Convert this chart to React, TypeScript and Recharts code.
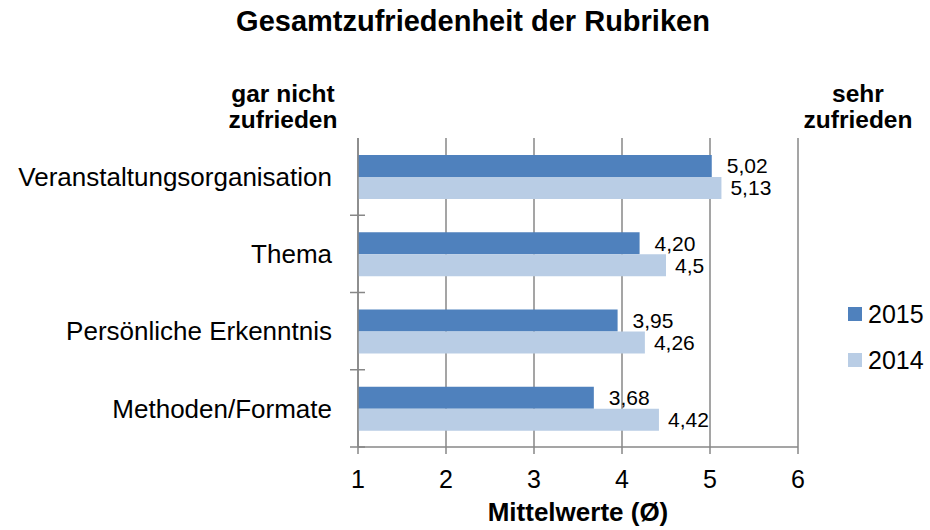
import React from "react";
import {
    BarChart,
    Bar,
    XAxis,
    YAxis,
    CartesianGrid,
    Legend,
    LabelList,
} from "recharts";

const categories = [
    "Veranstaltungsorganisation",
    "Thema",
    "Persönliche Erkenntnis",
    "Methoden/Formate",
];
const values2015 = [5.02, 4.2, 3.95, 3.68];
const values2014 = [5.13, 4.5, 4.26, 4.42];
const xTicks = [1, 2, 3, 4, 5, 6];

const data = categories.map((name, i) => ({
    name,
    y2015: values2015[i],
    y2014: values2014[i],
}));

const FONT = '"Liberation Sans", Arial, sans-serif';
const GRID = "#878787";
const C2015 = "#4f81bd";
const C2014 = "#b9cde5";
const TICK_MARGIN = 26;

const CategoryTick = (props: any) => {
    const { x, y, payload } = props;
    const axisX = x + TICK_MARGIN;
    const edge = y + (payload.offset ?? 0);
    return (
        <g>
            <text x={x} y={y} dy="0.355em" textAnchor="end" fontSize={26} fill="#000" fontFamily={FONT}>
                {payload.value}
            </text>
            <line x1={axisX - 8} x2={axisX + 7} y1={edge} y2={edge} stroke={GRID} strokeWidth={1.5} />
        </g>
    );
};

const renderLegend = () => (
    <div style={{ fontFamily: FONT }}>
        {[
            { label: "2015", color: C2015 },
            { label: "2014", color: C2014 },
        ].map((it) => (
            <div key={it.label} style={{ display: "flex", alignItems: "center", height: 46 }}>
                <div style={{ width: 14, height: 14, background: it.color, marginRight: 6 }} />
                <span style={{ fontSize: 25, lineHeight: "25px", color: "#000" }}>{it.label}</span>
            </div>
        ))}
    </div>
);

const comma = (v: any) => String(v).replace(".", ",");

export default function App() {
    return (
        <div style={{ position: "absolute", left: 0, top: 0, width: 930, height: 530, background: "#fff" }}>
            <BarChart
                width={930}
                height={530}
                data={data}
                layout="vertical"
                margin={{ top: 138, right: 132, bottom: 53, left: 0 }}
                barGap={0}
            >
                <CartesianGrid horizontal={false} stroke={GRID} strokeWidth={1.5} />
                <XAxis
                    type="number"
                    domain={[1, 6]}
                    ticks={xTicks}
                    interval={0}
                    height={30}
                    tickSize={7}
                    tickMargin={16}
                    axisLine={{ stroke: GRID, strokeWidth: 1.5 }}
                    tickLine={{ stroke: GRID, strokeWidth: 1.5 }}
                    tick={{ fontSize: 25, fill: "#000", fontFamily: FONT }}
                    label={{
                        value: "Mittelwerte (Ø)",
                        position: "bottom",
                        offset: 26,
                        fontSize: 26,
                        fontWeight: "bold",
                        fill: "#000",
                        fontFamily: FONT,
                    }}
                />
                <YAxis
                    type="category"
                    dataKey="name"
                    width={358}
                    tickSize={0}
                    tickMargin={TICK_MARGIN}
                    tickLine={false}
                    interval={0}
                    axisLine={{ stroke: GRID, strokeWidth: 1.5 }}
                    tick={<CategoryTick />}
                />
                <Legend
                    layout="vertical"
                    align="center"
                    verticalAlign="middle"
                    content={renderLegend}
                    wrapperStyle={{ position: "absolute", left: 848, top: 291, width: 82 }}
                />
                <Bar dataKey="y2015" name="2015" fill={C2015} barSize={22} isAnimationActive={false}>
                    <LabelList
                        dataKey="y2015"
                        position="right"
                        offset={15}
                        formatter={(v: any) => comma(Number(v).toFixed(2))}
                        style={{ fontSize: 21, fill: "#000", fontFamily: FONT }}
                    />
                </Bar>
                <Bar dataKey="y2014" name="2014" fill={C2014} barSize={22} isAnimationActive={false}>
                    <LabelList
                        dataKey="y2014"
                        position="right"
                        offset={9}
                        formatter={(v: any) => comma(v)}
                        style={{ fontSize: 21, fill: "#000", fontFamily: FONT }}
                    />
                </Bar>
            </BarChart>
            <svg
                width={930}
                height={530}
                style={{ position: "absolute", left: 0, top: 0, pointerEvents: "none" }}
                fontFamily={FONT}
            >
                <text x={473} y={31} textAnchor="middle" fontSize={29} fontWeight="bold" fill="#000">
                    Gesamtzufriedenheit der Rubriken
                </text>
                <text x={283} y={102} textAnchor="middle" fontSize={24.5} fontWeight="bold" fill="#000">
                    gar nicht
                </text>
                <text x={283} y={128} textAnchor="middle" fontSize={24.5} fontWeight="bold" fill="#000">
                    zufrieden
                </text>
                <text x={858} y={102} textAnchor="middle" fontSize={24.5} fontWeight="bold" fill="#000">
                    sehr
                </text>
                <text x={858} y={128} textAnchor="middle" fontSize={24.5} fontWeight="bold" fill="#000">
                    zufrieden
                </text>
            </svg>
        </div>
    );
}
